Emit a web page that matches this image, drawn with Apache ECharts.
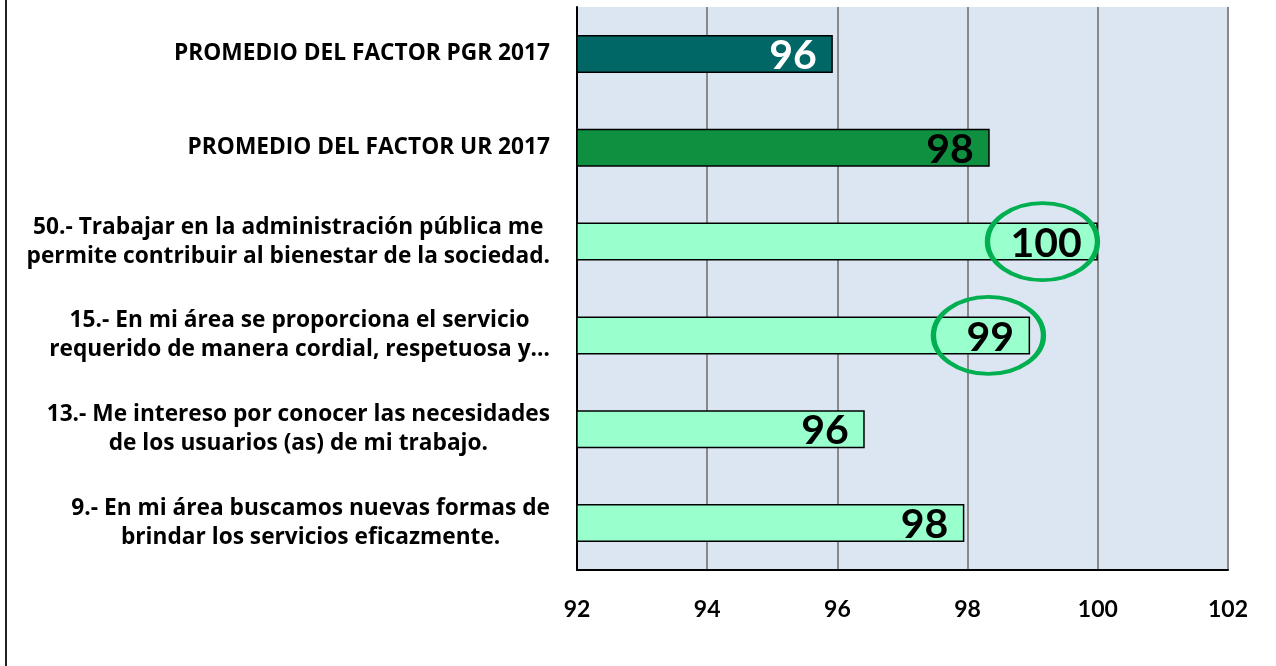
<!DOCTYPE html>
<html>
<head>
<meta charset="utf-8">
<script src="https://cdn.jsdelivr.net/npm/echarts@6/dist/echarts.min.js"></script>
<style>
    html, body {margin: 0; padding: 0; background: #fff;}
    #chart {width: 1276px; height: 666px;}
</style>
</head>
<body>
<div id="chart"></div>
<script>
    // 类目（从上到下）
    var categories = [
        'PROMEDIO DEL FACTOR PGR 2017',
        'PROMEDIO DEL FACTOR UR 2017',
        '50.- Trabajar en la administración pública me\npermite contribuir al bienestar de la sociedad.',
        '15.- En mi área se proporciona el servicio\nrequerido de manera cordial, respetuosa y…',
        '13.- Me intereso por conocer las necesidades\nde los usuarios (as) de mi trabajo.',
        '9.- En mi área buscamos nuevas formas de\nbrindar los servicios eficazmente.'
    ];
    var values = [95.93, 98.34, 100.0, 98.96, 96.42, 97.95];
    var xTicks = [92, 94, 96, 98, 100, 102];
    // 圈出的项目：[类目序号, 圈中心值]
    var circled = [[2, 99.15], [3, 98.32]];

    var barColors = ['#006666', '#0e9040', '#99ffcc', '#99ffcc', '#99ffcc', '#99ffcc'];
    var labelColors = ['#ffffff', '#000000', '#000000', '#000000', '#000000', '#000000'];
    var font = 'Lato';

    var chart = echarts.init(document.getElementById('chart'));

    var barData = values.map(function (v, i) {
        return {
            value: v,
            itemStyle: {color: barColors[i]},
            label: {color: labelColors[i]}
        };
    });

    var option = {
        animation: false,
        graphic: [{
            type: 'line',
            shape: {x1: 6, y1: 0, x2: 6, y2: 666},
            style: {stroke: '#222', lineWidth: 2}
        }],
        grid: {
            left: 577, right: 48, top: 7, bottom: 96,
            show: true, backgroundColor: '#dce6f2', borderWidth: 0
        },
        xAxis: {
            type: 'value',
            min: xTicks[0], max: xTicks[xTicks.length - 1], interval: 2,
            axisLine: {show: true, lineStyle: {color: '#000', width: 2}},
            axisTick: {show: false},
            splitLine: {show: true, lineStyle: {color: '#898989', width: 2}},
            axisLabel: {
                margin: 28, fontSize: 23, fontWeight: 'bold', fontFamily: font, color: '#000'
            }
        },
        yAxis: {
            type: 'category',
            inverse: true,
            data: categories,
            axisLine: {show: true, lineStyle: {color: '#000', width: 2}},
            axisTick: {show: false},
            axisLabel: {
                margin: 27,
                align: 'right',
                formatter: function (val) {
                    return val.split('\n').map(function (s) { return '{c|' + s + '}'; }).join('\n');
                },
                rich: {
                    c: {
                        align: 'center', fontSize: 22.7, fontWeight: 'bold',
                        fontFamily: 'Open Sans', color: '#000', lineHeight: 29
                    }
                }
            }
        },
        series: [{
            type: 'bar',
            barWidth: 38,
            data: barData,
            itemStyle: {borderColor: '#000', borderWidth: 1.5},
            label: {
                show: true,
                position: 'insideRight',
                distance: 16,
                fontSize: 41,
                fontWeight: 'bold',
                fontFamily: font,
                offset: [0, 2],
                formatter: function (p) { return Math.round(p.value); }
            },
            markPoint: {
                silent: true,
                symbol: 'path://M0,50 A50,50 0 1,1 100,50 A50,50 0 1,1 0,50 Z',
                symbolSize: [110, 77],
                label: {show: false},
                itemStyle: {color: 'rgba(0,0,0,0)', borderColor: '#00b050', borderWidth: 4.5},
                data: circled.map(function (c) {
                    return {coord: [c[1], c[0]]};
                })
            }
        }]
    };

    chart.setOption(option);
</script>
</body>
</html>
